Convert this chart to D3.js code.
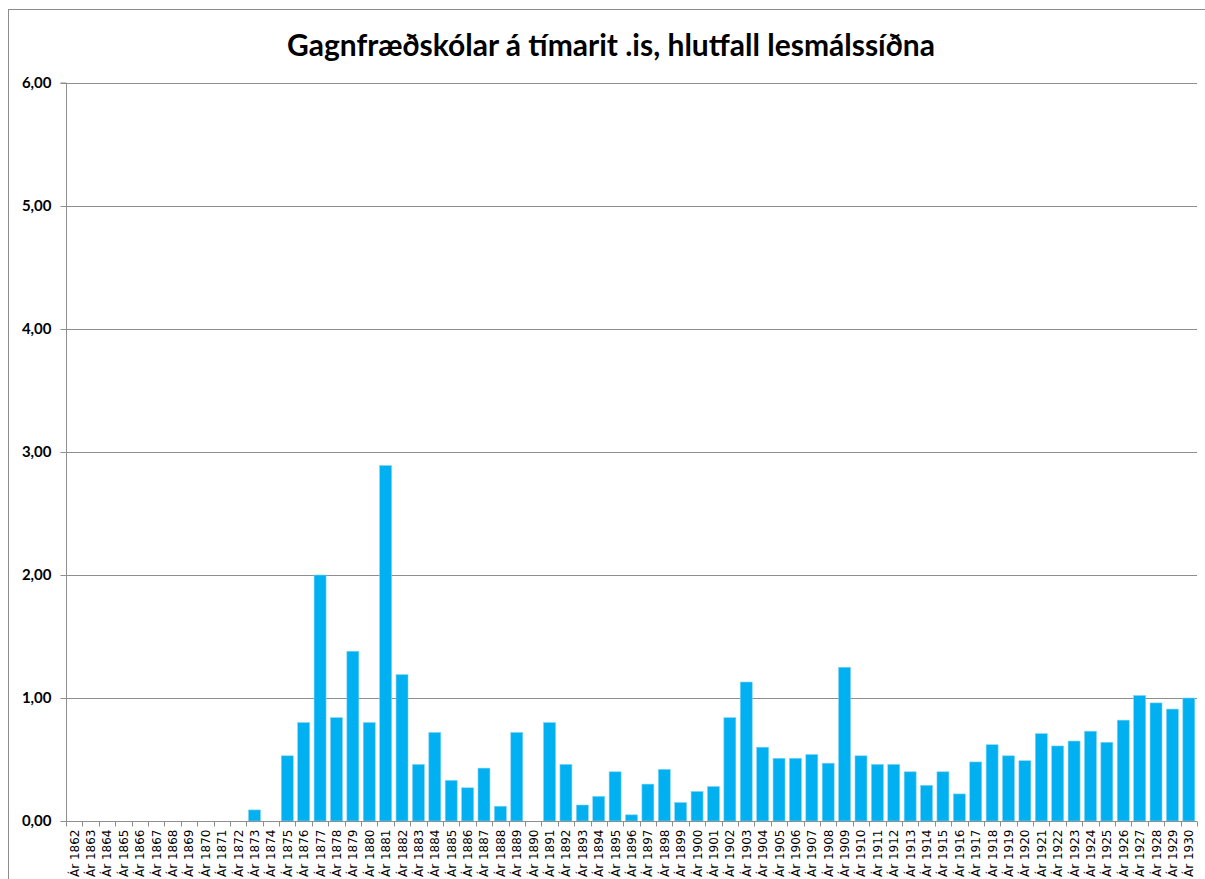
<!DOCTYPE html>
<html>
<head>
<meta charset="utf-8">
<script src="https://cdn.jsdelivr.net/npm/d3@7"></script>
<style>
	body { margin: 0; background: #fff; }
	svg { display: block; }
</style>
</head>
<body>
<script>
// Data
const years = d3.range(1862, 1931).map(y => "Ár " + y);
const values = [
	0, 0, 0, 0, 0, 0, 0, 0, 0, 0, 0, 0.09, 0, 0.53, 0.80, 2.00, 0.84, 1.38, 0.80, 2.89,
	1.19, 0.46, 0.72, 0.33, 0.27, 0.43, 0.12, 0.72, 0, 0.80, 0.46, 0.13, 0.20, 0.40, 0.05, 0.30,
	0.42, 0.15, 0.24, 0.28, 0.84, 1.13, 0.60, 0.51, 0.51, 0.54, 0.47, 1.25, 0.53, 0.46, 0.46,
	0.40, 0.29, 0.40, 0.22, 0.48, 0.62, 0.53, 0.49, 0.71, 0.61, 0.65, 0.73, 0.64, 0.82, 1.02,
	0.96, 0.91, 1.00
];
const yTicks = [0, 1, 2, 3, 4, 5, 6];
const title = "Gagnfræðskólar á tímarit .is, hlutfall lesmálssíðna";

const width = 1205, height = 879;
const margin = { top: 83, right: 8, bottom: 58, left: 66 };

const svg = d3.select("body").append("svg")
	.attr("width", width)
	.attr("height", height);

// chart frame
svg.append("rect")
	.attr("x", 8.5).attr("y", 9.5)
	.attr("width", width).attr("height", height)
	.attr("fill", "none")
	.attr("stroke", "#8c8c8c");

svg.append("text")
	.attr("x", 611)
	.attr("y", 56)
	.attr("text-anchor", "middle")
	.attr("font-family", "Lato, 'Open Sans', sans-serif")
	.attr("font-weight", "bold")
	.attr("font-size", "30px")
	.text(title);

const x = d3.scaleBand()
	.domain(years)
	.range([margin.left, width - margin.right])
	.paddingInner(0.27)
	.paddingOuter(0.135);

const y = d3.scaleLinear()
	.domain([0, 6])
	.range([height - margin.bottom, margin.top]);

// gridlines
svg.append("g")
	.selectAll("line")
	.data(yTicks.slice(1))
	.enter().append("line")
	.attr("x1", margin.left)
	.attr("x2", width - margin.right)
	.attr("y1", d => Math.round(y(d)) + 0.5)
	.attr("y2", d => Math.round(y(d)) + 0.5)
	.attr("stroke", "#8e8e8e")
	.attr("stroke-width", 1);

// bars
svg.append("g")
	.selectAll("rect")
	.data(values)
	.enter().append("rect")
	.attr("x", (d, i) => x(years[i]))
	.attr("y", d => y(d))
	.attr("width", x.bandwidth())
	.attr("height", d => y(0) - y(d))
	.attr("fill", "#00b0f0")
	.attr("stroke", d => d > 0 ? "#7fd3f5" : "none")
	.attr("stroke-width", 0.6);

// y axis
const yAxis = svg.append("g")
	.attr("transform", `translate(${margin.left + 0.5},0)`)
	.call(d3.axisLeft(y)
		.tickValues(yTicks)
		.tickSize(6)
		.tickPadding(9)
		.tickFormat(d => d3.format(".2f")(d).replace(".", ",")));
yAxis.select(".domain").attr("stroke", "#8e8e8e").attr("d", `M-6,${y(6)}H0V${y(0)}`);
yAxis.selectAll(".tick line").attr("stroke", "#8e8e8e");
yAxis.selectAll(".tick text")
	.attr("font-family", "Lato, 'Open Sans', sans-serif")
	.attr("font-weight", "bold")
	.attr("font-size", "15px")
	.attr("fill", "#000");

// x axis: ticks between categories
const xAxisG = svg.append("g")
	.attr("transform", `translate(0,${Math.round(y(0)) + 0.5})`);
xAxisG.append("line")
	.attr("x1", margin.left)
	.attr("x2", width - margin.right)
	.attr("stroke", "#8e8e8e");
xAxisG.selectAll("line.tk")
	.data(d3.range(years.length + 1))
	.enter().append("line")
	.attr("class", "tk")
	.attr("x1", i => Math.round(margin.left + i * (width - margin.right - margin.left) / years.length) + 0.5)
	.attr("x2", i => Math.round(margin.left + i * (width - margin.right - margin.left) / years.length) + 0.5)
	.attr("y1", 0)
	.attr("y2", 5)
	.attr("stroke", "#8e8e8e");
xAxisG.selectAll("text")
	.data(years)
	.enter().append("text")
	.attr("transform", d => `translate(${x(d) + x.bandwidth() / 2 + 4.5},8) rotate(-90)`)
	.attr("text-anchor", "end")
	.attr("font-family", "'DejaVu Sans', sans-serif")
	.attr("font-size", "12px")
	.attr("fill", "#000")
	.text(d => d);
</script>
</body>
</html>
